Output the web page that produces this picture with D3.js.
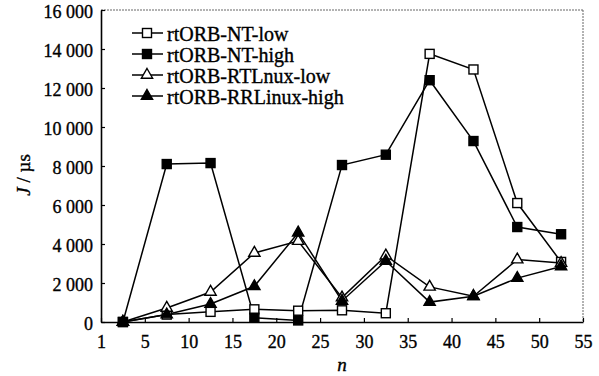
<!DOCTYPE html>
<html>
<head>
<meta charset="utf-8">
<script src="https://cdn.jsdelivr.net/npm/d3@7"></script>
<style>
  body { margin: 0; background: #fff; }
  svg text { stroke: #000; stroke-width: 0.35px; }
</style>
</head>
<body>
<div id="chart"></div>
<script>
// n values (x) and the four series, J in microseconds
const nValues = [2.5, 7.5, 12.5, 17.5, 22.5, 27.5, 32.5, 37.5, 42.5, 47.5, 52.5];
const ntLow = [0, 380, 520, 650, 580, 600, 450, 13750, 12950, 6100, 3080];
const ntHigh = [0, 8100, 8150, 220, 80, 8050, 8580, 12400, 9280, 4870, 4500];
const rtLow = [0, 720, 1540, 3540, 4150, 1250, 3400, 1800, 1320, 3200, 3020];
const rrHigh = [0, 380, 920, 1830, 4580, 1080, 3130, 1020, 1320, 2250, 2850];

const seriesNames = ["rtORB-NT-low", "rtORB-NT-high", "rtORB-RTLnux-low", "rtORB-RRLinux-high"];
const xTicks = [0, 5, 10, 15, 20, 25, 30, 35, 40, 45, 50, 55];
const yTicks = [0, 2000, 4000, 6000, 8000, 10000, 12000, 14000, 16000];

const fullWidth = 599, fullHeight = 376;
const margin = { top: 10, right: 16, bottom: 54, left: 101 };
const width = fullWidth - margin.left - margin.right;
const height = fullHeight - margin.top - margin.bottom;
const serif = '"Liberation Serif", "Times New Roman", serif';

const svg = d3.select("#chart").append("svg")
	.attr("width", fullWidth)
	.attr("height", fullHeight);

const g = svg.append("g")
	.attr("transform", "translate(" + margin.left + "," + margin.top + ")");

const x = d3.scaleLinear().domain([0, 55]).range([0, width]);
const y = d3.scaleLinear().domain([0, 16000]).range([height, 0]);

// dotted frame on top and right, as in the scan
g.append("line").attr("x1", 0).attr("x2", width).attr("y1", 0).attr("y2", 0)
	.attr("stroke", "#666").attr("stroke-dasharray", "2,1");
g.append("line").attr("x1", width).attr("x2", width).attr("y1", 0).attr("y2", height)
	.attr("stroke", "#666").attr("stroke-dasharray", "2,1");

const fmt = d => d3.format(",")(d).replace(",", " ");

const xAxis = g.append("g")
	.attr("transform", "translate(0," + height + ")")
	.call(d3.axisBottom(x).tickValues(xTicks).tickSizeInner(-4).tickSizeOuter(0)
		.tickPadding(13)
		.tickFormat(d => d === 0 ? "1" : d));

const yAxis = g.append("g")
	.call(d3.axisLeft(y).tickValues(yTicks).tickSizeInner(-4).tickSizeOuter(0)
		.tickPadding(8).tickFormat(fmt));
yAxis.selectAll("text").attr("dy", "0.42em");

[xAxis, yAxis].forEach(a => {
	a.attr("font-family", null).attr("font-size", null);
	a.select(".domain").attr("stroke", "#000").attr("stroke-width", 1.6);
	a.selectAll(".tick line").attr("stroke", "#000").attr("stroke-width", 1.2);
	a.selectAll("text").style("font-size", "18px").style("font-family", serif);
});

svg.append("text")
	.attr("x", margin.left + x(27.5)).attr("y", 371)
	.attr("text-anchor", "middle")
	.style("font-size", "19px").style("font-style", "italic").style("font-family", serif)
	.text("n");

svg.append("text")
	.attr("transform", "translate(30,175) rotate(-90)")
	.attr("text-anchor", "middle")
	.style("font-size", "19px").style("font-family", serif)
	.html('<tspan font-style="italic">J</tspan> / µs');

const allSeries = [ntLow, ntHigh, rtLow, rrHigh];
const shapes = ["square", "square", "triangle", "triangle"];
const fills = ["#fff", "#000", "#fff", "#000"];

const line = d3.line().x((d, i) => x(nValues[i])).y(d => y(d));

function drawMarker(sel, k) {
	if (shapes[k] === "square") {
		sel.append("rect").attr("x", -4.5).attr("y", -4.5).attr("width", 9).attr("height", 9)
			.attr("fill", fills[k]).attr("stroke", "#000").attr("stroke-width", 1.4);
	} else {
		sel.append("path").attr("d", d3.symbol().type(d3.symbolTriangle).size(55)())
			.attr("fill", fills[k]).attr("stroke", "#000").attr("stroke-width", 1.4);
	}
}

allSeries.forEach((vals, k) => {
	g.append("path").datum(vals)
		.attr("d", line)
		.attr("fill", "none").attr("stroke", "#000").attr("stroke-width", 1.5);
});
allSeries.forEach((vals, k) => {
	g.selectAll(".m" + k).data(vals).enter().append("g")
		.attr("class", "m" + k)
		.attr("transform", (d, i) => "translate(" + x(nValues[i]) + "," + y(d) + ")")
		.each(function() { drawMarker(d3.select(this), k); });
});

// legend
const legend = g.append("g").attr("transform", "translate(31,23)");
seriesNames.forEach((name, k) => {
	const row = legend.append("g").attr("transform", "translate(0," + (k * 21) + ")");
	row.append("line").attr("x1", 0).attr("x2", 31).attr("y1", 0).attr("y2", 0)
		.attr("stroke", "#000").attr("stroke-width", 1.5);
	drawMarker(row.append("g").attr("transform", "translate(15,0)"), k);
	row.append("text").attr("x", 35).attr("y", 8)
		.style("font-size", "20px").style("font-family", serif).text(name);
});
</script>
</body>
</html>
